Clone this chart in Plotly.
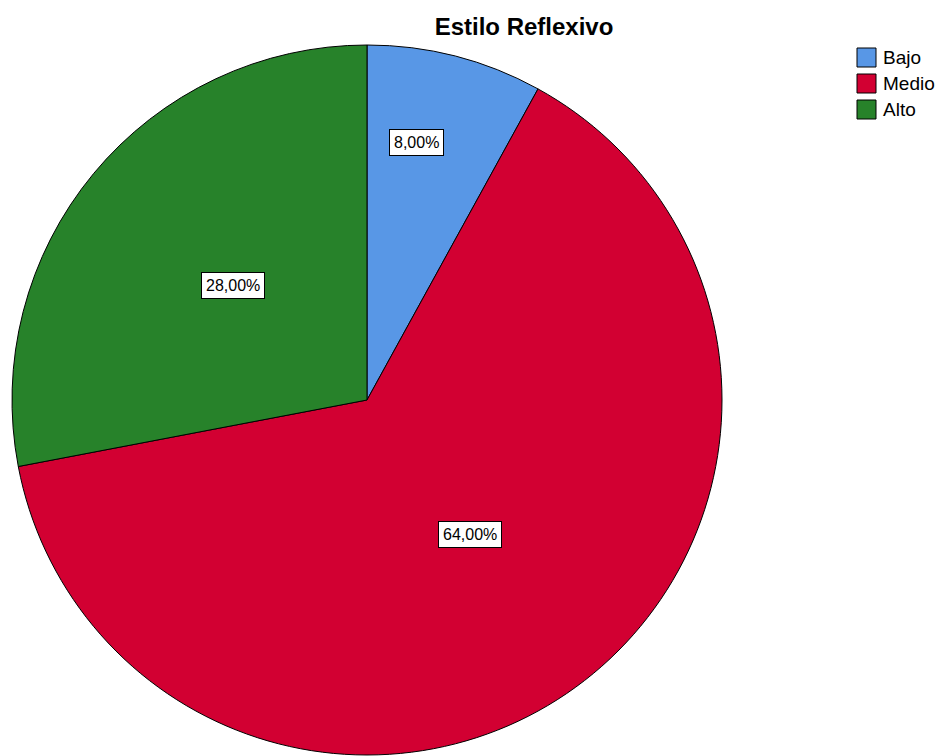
import math
import plotly.graph_objects as go

# Distribución del estilo reflexivo (porcentajes)
categorias = ["Bajo", "Medio", "Alto"]
porcentajes = [8.00, 64.00, 28.00]
colores = ["#5897E6", "#D20032", "#27822A"]

W, H = 939, 756
cx, cy, r = 367, 400, 355  # centro y radio del pastel en píxeles
FUENTE = "Liberation Sans, Arial, sans-serif"

fig = go.Figure()
fig.add_trace(go.Pie(
    labels=categorias,
    values=porcentajes,
    sort=False,
    direction="clockwise",
    rotation=0,
    textinfo="none",
    hoverinfo="label+percent",
    showlegend=False,
    marker=dict(colors=colores, line=dict(color="#000000", width=1)),
    domain=dict(x=[(cx - r) / W, (cx + r) / W],
                y=[1 - (cy + r) / H, 1 - (cy - r) / H]),
))

# Etiquetas con recuadro blanco, en el ángulo medio de cada sector
frac_radial = [0.737, 0.478, 0.497]
ajuste_ang = [-3.6, -1.3, 1.0]  # grados
total = sum(porcentajes)
acum = 0.0
for v, fr, da in zip(porcentajes, frac_radial, ajuste_ang):
    medio = (acum + v / 2) / total * 2 * math.pi + math.radians(da)
    acum += v
    px = cx + fr * r * math.sin(medio)
    py = cy - fr * r * math.cos(medio)
    fig.add_annotation(
        x=px / W, y=1 - py / H, xref="paper", yref="paper",
        xanchor="center", yanchor="middle",
        text=f"{v:.2f}".replace(".", ",") + "%",
        showarrow=False,
        font=dict(family=FUENTE, size=16, color="#000000"),
        bgcolor="#FFFFFF", bordercolor="#000000", borderwidth=1, borderpad=4,
    )

# Leyenda: cuadros de color con borde negro y el nombre de la categoría
lx, ly0, paso, lado = 857, 48, 26, 19
for i, (cat, col) in enumerate(zip(categorias, colores)):
    y_top = ly0 + i * paso
    fig.add_shape(
        type="rect", xref="paper", yref="paper",
        x0=lx / W, x1=(lx + lado) / W,
        y0=1 - (y_top + lado) / H, y1=1 - y_top / H,
        fillcolor=col, line=dict(color="#000000", width=1),
    )
    fig.add_annotation(
        x=(lx + lado + 5) / W, y=1 - (y_top + lado / 2) / H,
        xref="paper", yref="paper", xanchor="left", yanchor="middle",
        text=cat, showarrow=False,
        font=dict(family=FUENTE, size=19, color="#000000"),
    )

fig.update_layout(
    width=W, height=H,
    margin=dict(l=0, r=0, t=0, b=0),
    paper_bgcolor="#FFFFFF",
    plot_bgcolor="#FFFFFF",
    title=dict(text="<b>Estilo Reflexivo</b>", x=524 / W, xanchor="center",
               y=1 - 27 / H, yanchor="middle",
               font=dict(family=FUENTE, size=24, color="#000000")),
    showlegend=False,
)

fig.write_html("out.html")
